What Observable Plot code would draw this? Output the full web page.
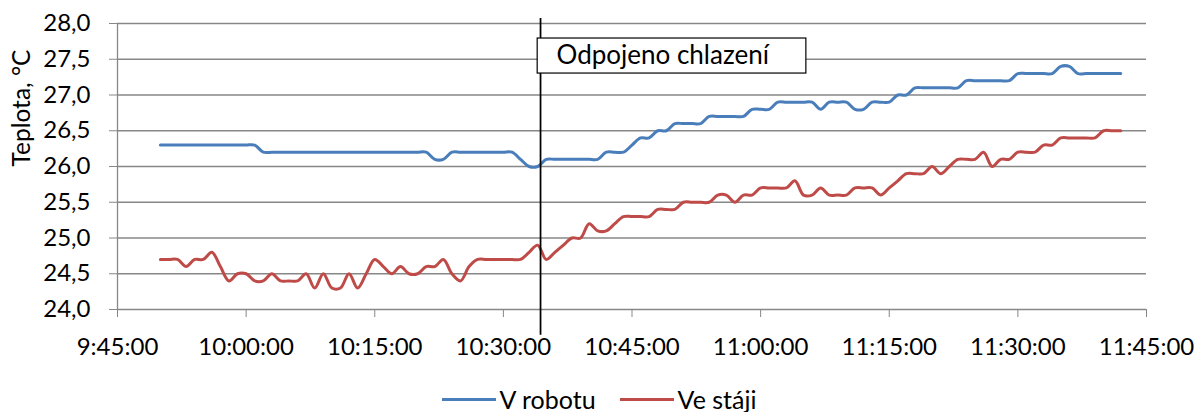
<!DOCTYPE html>
<html>
<head>
<meta charset="utf-8">
<script src="https://cdn.jsdelivr.net/npm/d3@7"></script>
<script src="https://cdn.jsdelivr.net/npm/@observablehq/plot@0.6"></script>
<style>
  html, body { margin: 0; padding: 0; background: #fff; }
  body { width: 1196px; height: 412px; overflow: hidden; font-family: Lato, sans-serif; }
  #legend { display: flex; justify-content: center; align-items: center; height: 40px; margin-top: 14px; font-size: 25px; line-height: 30px; color: #000; padding-left: 2px; }
  .item { display: flex; align-items: center; }
  .item + .item { margin-left: 24px; }
  .swatch { width: 54px; height: 3px; margin-right: 4px; }
</style>
</head>
<body>
<div id="chart"></div>
<div id="legend"></div>
<script>
// ---- data ----
const startTime = "9:50:00";
const stepMinutes = 1;
const seriesNames = ["V robotu", "Ve stáji"];
const seriesColors = ["#4A7EBB", "#BE4B48"];

// V robotu, one reading per minute from 9:50 to 11:42
const vRobotu = [
  26.3, 26.3, 26.3, 26.3, 26.3,
  26.3, 26.3, 26.3, 26.3, 26.3, 26.3, 26.3, 26.2, 26.2, 26.2,
  26.2, 26.2, 26.2, 26.2, 26.2, 26.2, 26.2, 26.2, 26.2, 26.2,
  26.2, 26.2, 26.2, 26.2, 26.2, 26.2, 26.2, 26.1, 26.1, 26.2,
  26.2, 26.2, 26.2, 26.2, 26.2, 26.2, 26.2, 26.1, 26.0, 26.0,
  26.1, 26.1, 26.1, 26.1, 26.1, 26.1, 26.1, 26.2, 26.2, 26.2,
  26.3, 26.4, 26.4, 26.5, 26.5, 26.6, 26.6, 26.6, 26.6, 26.7,
  26.7, 26.7, 26.7, 26.7, 26.8, 26.8, 26.8, 26.9, 26.9, 26.9,
  26.9, 26.9, 26.8, 26.9, 26.9, 26.9, 26.8, 26.8, 26.9, 26.9,
  26.9, 27.0, 27.0, 27.1, 27.1, 27.1, 27.1, 27.1, 27.1, 27.2,
  27.2, 27.2, 27.2, 27.2, 27.2, 27.3, 27.3, 27.3, 27.3, 27.3,
  27.4, 27.4, 27.3, 27.3, 27.3, 27.3, 27.3, 27.3
];

// Ve stáji
const veStaji = [
  24.7, 24.7, 24.7, 24.6, 24.7,
  24.7, 24.8, 24.6, 24.4, 24.5, 24.5, 24.4, 24.4, 24.5, 24.4,
  24.4, 24.4, 24.5, 24.3, 24.5, 24.3, 24.3, 24.5, 24.3, 24.5,
  24.7, 24.6, 24.5, 24.6, 24.5, 24.5, 24.6, 24.6, 24.7, 24.5,
  24.4, 24.6, 24.7, 24.7, 24.7, 24.7, 24.7, 24.7, 24.8, 24.9,
  24.7, 24.8, 24.9, 25.0, 25.0, 25.2, 25.1, 25.1, 25.2, 25.3,
  25.3, 25.3, 25.3, 25.4, 25.4, 25.4, 25.5, 25.5, 25.5, 25.5,
  25.6, 25.6, 25.5, 25.6, 25.6, 25.7, 25.7, 25.7, 25.7, 25.8,
  25.6, 25.6, 25.7, 25.6, 25.6, 25.6, 25.7, 25.7, 25.7, 25.6,
  25.7, 25.8, 25.9, 25.9, 25.9, 26.0, 25.9, 26.0, 26.1, 26.1,
  26.1, 26.2, 26.0, 26.1, 26.1, 26.2, 26.2, 26.2, 26.3, 26.3,
  26.4, 26.4, 26.4, 26.4, 26.4, 26.5, 26.5, 26.5
];

const xTickLabels = ["9:45:00", "10:00:00", "10:15:00", "10:30:00", "10:45:00", "11:00:00", "11:15:00", "11:30:00", "11:45:00"];
const yTickValues = [24.0, 24.5, 25.0, 25.5, 26.0, 26.5, 27.0, 27.5, 28.0];
const yLabel = "Teplota, °C";

const annotationText = "Odpojeno chlazení";
const annotationTime = "10:34:20";
const annotationSpan = [23.64, 28.07];
const annotationBox = { from: "10:34:00", to: "11:05:20", low: 27.30, high: 27.79, textAt: "10:36:12", textY: 27.545 };

// ---- helpers ----
const parseT = s => { const [h, m, sec] = s.split(":").map(Number); return new Date(Date.UTC(2000, 0, 1, h, m, sec || 0)); };
const t0 = parseT(startTime);
const toRows = (values, name) => values.map((v, i) => ({ t: new Date(t0.getTime() + i * stepMinutes * 60000), v, s: name }));
const rows = [...toRows(vRobotu, seriesNames[0]), ...toRows(veStaji, seriesNames[1])];
const xTicks = xTickLabels.map(parseT);
const fmtY = d => d.toFixed(1).replace(".", ",");
const grid = "#878787";

const chart = Plot.plot({
  width: 1196,
  height: 365,
  marginLeft: 117,
  marginRight: 50,
  marginTop: 23,
  marginBottom: 56,
  style: { fontFamily: "Lato, sans-serif", fontSize: "24px", color: "#000", background: "#fff" },
  x: { type: "utc", domain: [xTicks[0], xTicks[xTicks.length - 1]] },
  y: { domain: [24, 28] },
  color: { domain: seriesNames, range: seriesColors },
  marks: [
    Plot.ruleY(yTickValues, { stroke: grid, strokeWidth: 1.3 }),
    Plot.ruleX([xTicks[0]], { stroke: grid, strokeWidth: 1.3 }),
    Plot.axisY({ ticks: yTickValues, tickSize: 8, tickPadding: 19, tickFormat: fmtY, stroke: grid, fill: "#000", label: null }),
    Plot.axisX({ ticks: xTicks, tickSize: 8, tickPadding: 20, tickFormat: d3.utcFormat("%-H:%M:%S"), stroke: grid, fill: "#000", label: null }),
    Plot.text([yLabel], { frameAnchor: "left", rotate: -90, dx: -95, fill: "#000", fontSize: 24.5 }),
    Plot.line(rows, { x: "t", y: "v", z: "s", stroke: "s", strokeWidth: 3, curve: "catmull-rom" }),
    Plot.ruleX([{ t: parseT(annotationTime), y1: annotationSpan[0], y2: annotationSpan[1] }], { x: "t", y1: "y1", y2: "y2", stroke: "#000", strokeWidth: 1.75 }),
    Plot.rect([annotationBox], { x1: d => parseT(d.from), x2: d => parseT(d.to), y1: "low", y2: "high", fill: "#fff", stroke: "#000", strokeWidth: 1.2 }),
    Plot.text([annotationBox], { x: d => parseT(d.textAt), y: "textY", text: () => annotationText, textAnchor: "start", fill: "#000", fontSize: 26 })
  ]
});
document.getElementById("chart").append(chart);

const legend = document.getElementById("legend");
seriesNames.forEach((name, i) => {
  const item = document.createElement("div");
  item.className = "item";
  const sw = document.createElement("span");
  sw.className = "swatch";
  sw.style.background = seriesColors[i];
  const label = document.createElement("span");
  label.textContent = name;
  item.append(sw, label);
  legend.append(item);
});
</script>
</body>
</html>
